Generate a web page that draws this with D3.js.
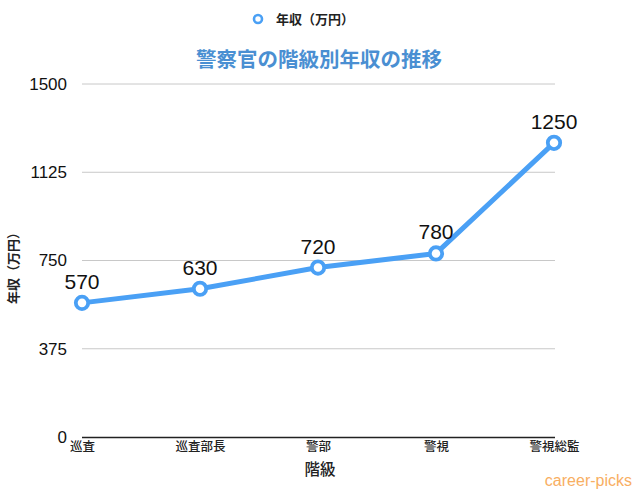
<!DOCTYPE html>
<html><head><meta charset="utf-8">
<script src="https://cdn.jsdelivr.net/npm/d3@7"></script>
<style>body{margin:0;background:#fff}svg{display:block}</style>
</head><body>
<svg id="c" width="640" height="498"></svg>
<script>
const categories = ["巡査","巡査部長","警部","警視","警視総監"];
const values = [570,630,720,780,1250];
const yTicks = [0,375,750,1125,1500];
const seriesName = "年収（万円）";
const title = "警察官の階級別年収の推移";
const xTitle = "階級";
const yTitle = "年収（万円）";
const font = "'Noto Sans CJK JP','Liberation Sans',sans-serif";
const blue = "#4aa0f5";

const svg = d3.select("#c");
const x = d3.scalePoint().domain(categories).range([82,554]).padding(0);
const y = d3.scaleLinear().domain([0,1500]).range([437,84]);

// gridlines
svg.append("g").selectAll("line").data(yTicks.slice(1)).join("line")
  .attr("x1",82).attr("x2",555).attr("y1",d=>y(d)).attr("y2",d=>y(d))
  .attr("stroke","#c8c8c8").attr("stroke-width",1);

// y axis labels
const yAxis = svg.append("g").attr("transform","translate(82,0)")
  .call(d3.axisLeft(y).tickValues(yTicks).tickFormat(d3.format("d")).tickSize(0).tickPadding(15));
yAxis.select(".domain").remove();
yAxis.selectAll("text").attr("font-family","'Liberation Sans',sans-serif").attr("font-size",17).attr("fill","#111");

// x axis
const xAxis = svg.append("g").attr("transform","translate(0,437)")
  .call(d3.axisBottom(x).tickSize(0).tickPadding(5));
xAxis.select(".domain").attr("d","M82,0.5H555").attr("stroke","#222").attr("stroke-width",1.3);
xAxis.selectAll("text").attr("font-family",font).attr("font-size",12.5).attr("font-weight",500).attr("fill","#222");

// line
const line = d3.line().x((d,i)=>x(categories[i])).y(d=>y(d));
svg.append("path").datum(values).attr("d",line).attr("fill","none")
  .attr("stroke",blue).attr("stroke-width",5).attr("stroke-linejoin","round");

svg.append("g").selectAll("circle").data(values).join("circle")
  .attr("cx",(d,i)=>x(categories[i])).attr("cy",d=>y(d)).attr("r",6.2)
  .attr("fill","#fff").attr("stroke",blue).attr("stroke-width",3.8);

svg.append("g").selectAll("text").data(values).join("text")
  .attr("x",(d,i)=>x(categories[i])).attr("y",d=>y(d)-14)
  .attr("text-anchor","middle").attr("font-family","'Liberation Sans',sans-serif")
  .attr("font-size",21).attr("fill","#111").text(d=>d);

// title
svg.append("text").attr("x",319).attr("y",67).attr("text-anchor","middle")
  .attr("font-family",font).attr("font-weight","bold").attr("font-size",20.5)
  .attr("fill","#4a8fd2").text(title);

// legend
svg.append("circle").attr("cx",258).attr("cy",19).attr("r",4).attr("fill","#fff")
  .attr("stroke",blue).attr("stroke-width",2.6);
svg.append("text").attr("x",276).attr("y",24).attr("font-family",font)
  .attr("font-size",13).attr("font-weight",600).attr("fill","#222").text(seriesName);

// axis titles
svg.append("text").attr("x",320).attr("y",475).attr("text-anchor","middle")
  .attr("font-family",font).attr("font-size",15.5).attr("font-weight",500).attr("fill","#222").text(xTitle);
svg.append("text").attr("transform","translate(18,265) rotate(-90)").attr("text-anchor","middle")
  .attr("font-family",font).attr("font-size",13).attr("font-weight",600).attr("fill","#222").text(yTitle);

// watermark
svg.append("text").attr("x",632).attr("y",486).attr("text-anchor","end")
  .attr("font-family","'Liberation Sans',sans-serif").attr("font-size",16)
  .attr("fill","#f8ae62").text("career-picks");
</script>
</body></html>
